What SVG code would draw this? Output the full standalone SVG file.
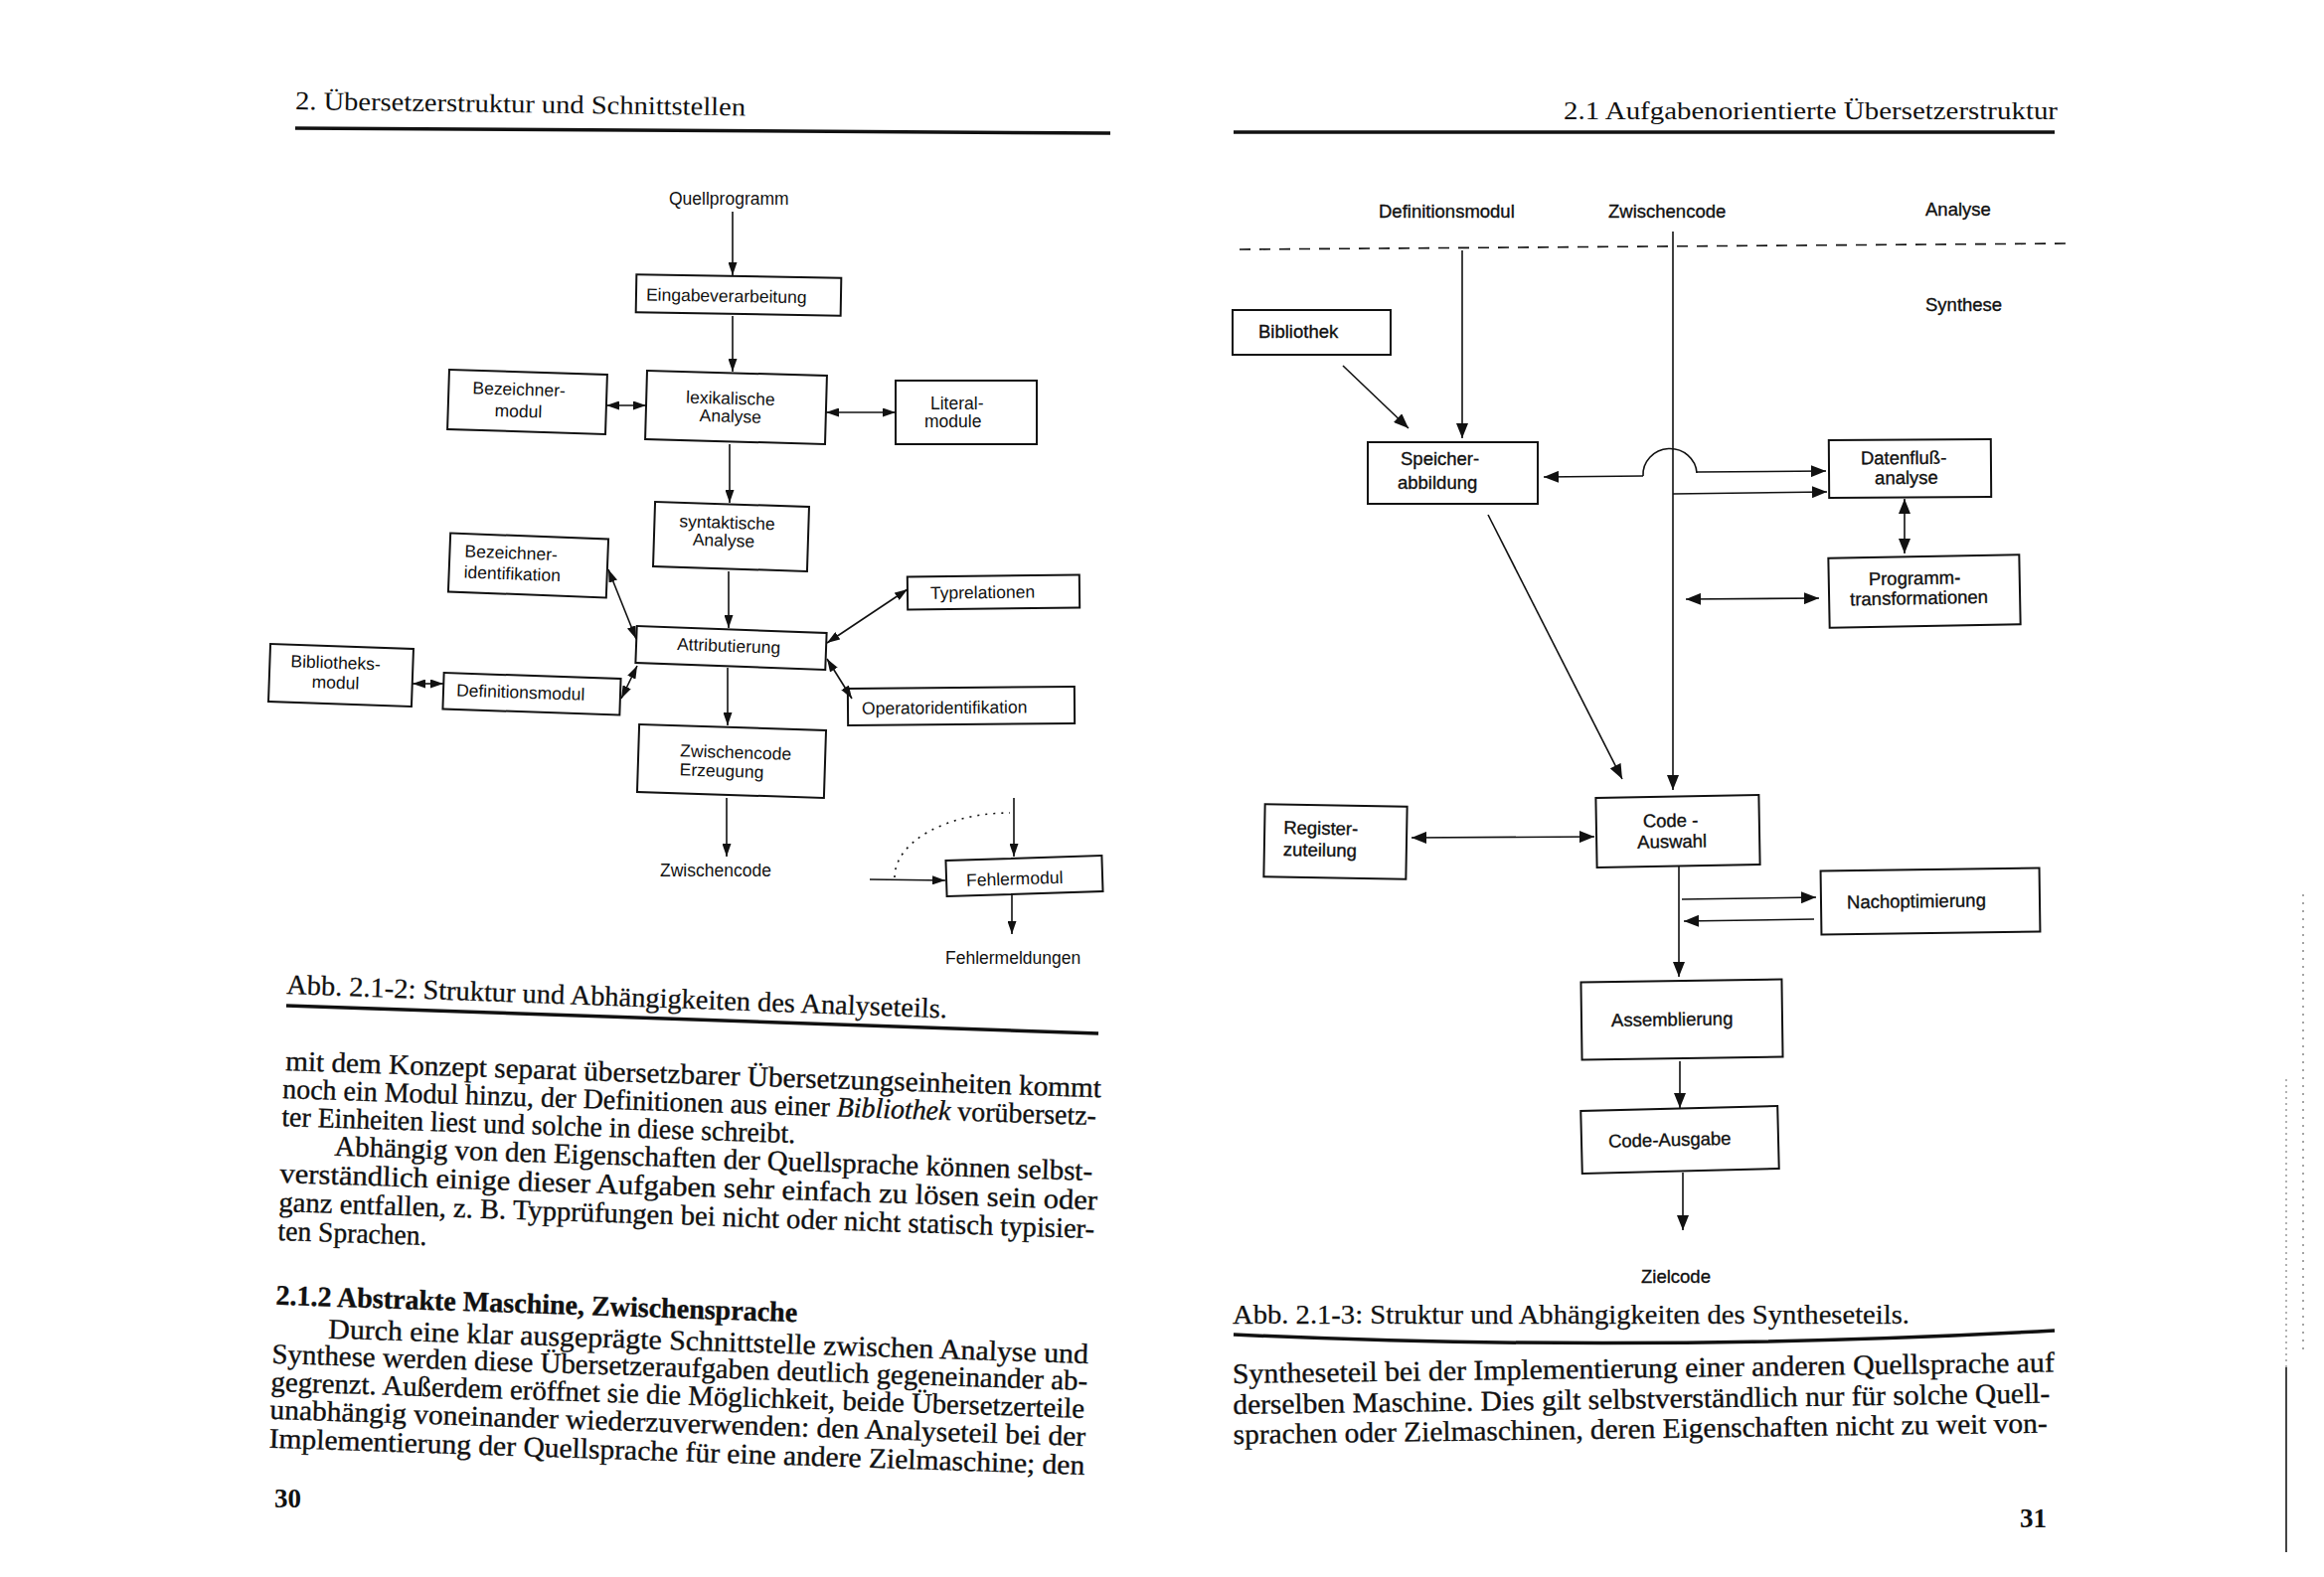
<svg xmlns="http://www.w3.org/2000/svg" width="2338" height="1587" viewBox="0 0 2338 1587">
<defs>
<style>
.box{fill:none;stroke:#111;stroke-width:2}
.lt{font-family:"Liberation Sans",Arial,sans-serif;font-size:17.5px;fill:#111}
.rt{font-family:"Liberation Sans",Arial,sans-serif;font-size:18.5px;fill:#111;stroke:#111;stroke-width:0.35}
.ser{font-family:"Liberation Serif","Times New Roman",serif;fill:#111}
.body{font-size:28.5px;stroke:#111;stroke-width:0.35}
.cap{font-size:28px;stroke:#111;stroke-width:0.25}
.con{fill:none;stroke:#111;stroke-width:1.6}
.eL{marker-end:url(#ahL)}
.dL{marker-start:url(#ahL);marker-end:url(#ahL)}
.eR{marker-end:url(#ahR)}
.dR{marker-start:url(#ahR);marker-end:url(#ahR)}
.rule{fill:none;stroke:#111;stroke-width:3.5}
</style>
<marker id="ahL" viewBox="0 0 13 9" refX="13" refY="4.5" markerWidth="13" markerHeight="9" markerUnits="userSpaceOnUse" orient="auto-start-reverse"><path d="M0,0 L13,4.5 L0,9 z" fill="#111"/></marker>
<marker id="ahR" viewBox="0 0 15 12" refX="15" refY="6" markerWidth="15" markerHeight="12" markerUnits="userSpaceOnUse" orient="auto-start-reverse"><path d="M0,0 L15,6 L0,12 z" fill="#111"/></marker>
</defs>
<rect width="2338" height="1587" fill="#fff"/>

<!-- ===== Left page ===== -->
<g id="left-page-text">
<text class="ser" font-size="26" x="297" y="110" textLength="453" lengthAdjust="spacingAndGlyphs" transform="rotate(0.8 297 110)">2. Übersetzerstruktur und Schnittstellen</text>
<path class="rule" d="M297,129 L1117,134"/>
<text class="ser cap" x="288" y="1000" textLength="665" lengthAdjust="spacingAndGlyphs" transform="rotate(2.1 288 1000)">Abb. 2.1-2: Struktur und Abhängigkeiten des Analyseteils.</text>
<path class="rule" d="M288,1012 L1105,1040"/>
<g class="ser body" transform="rotate(1.9 285 1077)">
<text x="287" y="1077" textLength="821" lengthAdjust="spacingAndGlyphs">mit dem Konzept separat übersetzbarer Übersetzungseinheiten kommt</text>
<text x="285" y="1105" textLength="819" lengthAdjust="spacingAndGlyphs">noch ein Modul hinzu, der Definitionen aus einer <tspan font-style="italic">Bibliothek</tspan> vorübersetz-</text>
<text x="285" y="1133" textLength="517" lengthAdjust="spacingAndGlyphs">ter Einheiten liest und solche in diese schreibt.</text>
<text x="339" y="1161" textLength="763" lengthAdjust="spacingAndGlyphs">Abhängig von den Eigenschaften der Quellsprache können selbst-</text>
<text x="285" y="1190" textLength="823" lengthAdjust="spacingAndGlyphs">verständlich einige dieser Aufgaben sehr einfach zu lösen sein oder</text>
<text x="285" y="1219" textLength="821" lengthAdjust="spacingAndGlyphs">ganz entfallen, z. B. Typprüfungen bei nicht oder nicht statisch typisier-</text>
<text x="285" y="1248" textLength="150" lengthAdjust="spacingAndGlyphs">ten Sprachen.</text>
<text x="285" y="1313" font-weight="bold" textLength="525" lengthAdjust="spacingAndGlyphs">2.1.2 Abstrakte Maschine, Zwischensprache</text>
<text x="339" y="1345" textLength="765" lengthAdjust="spacingAndGlyphs">Durch eine klar ausgeprägte Schnittstelle zwischen Analyse und</text>
<text x="283" y="1372" textLength="821" lengthAdjust="spacingAndGlyphs">Synthese werden diese Übersetzeraufgaben deutlich gegeneinander ab-</text>
<text x="283" y="1400" textLength="819" lengthAdjust="spacingAndGlyphs">gegrenzt. Außerdem eröffnet sie die Möglichkeit, beide Übersetzerteile</text>
<text x="283" y="1428" textLength="821" lengthAdjust="spacingAndGlyphs">unabhängig voneinander wiederzuverwenden: den Analyseteil bei der</text>
<text x="283" y="1457" textLength="821" lengthAdjust="spacingAndGlyphs">Implementierung der Quellsprache für eine andere Zielmaschine; den</text>
</g>
<text class="ser" font-size="27" font-weight="bold" x="276" y="1517">30</text>
</g>

<!-- Left diagram nodes -->
<g id="n-quellprogramm"><text class="lt" x="673" y="206">Quellprogramm</text></g>
<g id="n-eingabe" transform="rotate(1 743 297)"><rect class="box" x="640" y="278" width="206" height="38"/><text class="lt" x="650" y="304">Eingabeverarbeitung</text></g>
<g id="n-bezmodul" transform="rotate(1.8 530.5 404.5)"><rect class="box" x="451" y="374.5" width="159" height="60"/><text class="lt" x="475" y="398">Bezeichner-</text><text class="lt" x="498" y="420">modul</text></g>
<g id="n-lex" transform="rotate(1.6 740.5 410)"><rect class="box" x="650" y="375.5" width="181" height="69"/><text class="lt" x="690" y="407">lexikalische</text><text class="lt" x="704" y="425">Analyse</text></g>
<g id="n-literal"><rect class="box" x="901" y="383" width="142" height="64"/><text class="lt" x="936" y="412">Literal-</text><text class="lt" x="930" y="430">module</text></g>
<g id="n-syn" transform="rotate(1.8 735.5 540)"><rect class="box" x="658" y="507.5" width="155" height="65"/><text class="lt" x="683" y="532">syntaktische</text><text class="lt" x="697" y="550">Analyse</text></g>
<g id="n-bezident" transform="rotate(2.2 531.5 569)"><rect class="box" x="452" y="539.5" width="159" height="59"/><text class="lt" x="467" y="563">Bezeichner-</text><text class="lt" x="467" y="584">identifikation</text></g>
<g id="n-attr" transform="rotate(2.1 735.5 652)"><rect class="box" x="640" y="633.5" width="191" height="37"/><text class="lt" x="681" y="656">Attributierung</text></g>
<g id="n-typ" transform="rotate(-0.7 999.5 596)"><rect class="box" x="913" y="579.5" width="173" height="33"/><text class="lt" x="936" y="602">Typrelationen</text></g>
<g id="n-bibl" transform="rotate(2 343 679.5)"><rect class="box" x="271" y="650.5" width="144" height="58"/><text class="lt" x="292" y="673">Bibliotheks-</text><text class="lt" x="314" y="693">modul</text></g>
<g id="n-def" transform="rotate(1.9 535 698)"><rect class="box" x="446" y="680" width="178" height="36.5"/><text class="lt" x="459" y="703">Definitionsmodul</text></g>
<g id="n-op" transform="rotate(-0.5 967 710.5)"><rect class="box" x="853" y="692" width="228" height="37"/><text class="lt" x="867" y="718">Operatoridentifikation</text></g>
<g id="n-zwerz" transform="rotate(1.8 736 766)"><rect class="box" x="642" y="732" width="188" height="68"/><text class="lt" x="684" y="763">Zwischencode</text><text class="lt" x="684" y="782">Erzeugung</text></g>
<g id="n-zwlabel"><text class="lt" x="664" y="882">Zwischencode</text></g>
<g id="n-fehler" transform="rotate(-1.8 1030.5 881.5)"><rect class="box" x="952" y="863.5" width="157" height="36"/><text class="lt" x="972" y="890">Fehlermodul</text></g>
<g id="n-fehlermeldungen"><text class="lt" x="951" y="970">Fehlermeldungen</text></g>

<!-- ===== Right page ===== -->
<g id="right-page-text">
<text class="ser" font-size="26" x="1573" y="120" textLength="497" lengthAdjust="spacingAndGlyphs">2.1 Aufgabenorientierte Übersetzerstruktur</text>
<path class="rule" d="M1241,133 L2067,133"/>
<text class="ser cap" x="1240" y="1332" textLength="681" lengthAdjust="spacingAndGlyphs">Abb. 2.1-3: Struktur und Abhängigkeiten des Syntheseteils.</text>
<path class="rule" d="M1241,1343 Q1650,1362 2067,1339"/>
<g class="ser body" transform="rotate(-0.8 1240 1392)">
<text x="1240" y="1392" textLength="827" lengthAdjust="spacingAndGlyphs">Syntheseteil bei der Implementierung einer anderen Quellsprache auf</text>
<text x="1240" y="1423" textLength="822" lengthAdjust="spacingAndGlyphs">derselben Maschine. Dies gilt selbstverständlich nur für solche Quell-</text>
<text x="1240" y="1453" textLength="819" lengthAdjust="spacingAndGlyphs">sprachen oder Zielmaschinen, deren Eigenschaften nicht zu weit von-</text>
</g>
<text class="ser" font-size="27" font-weight="bold" x="2032" y="1537">31</text>
</g>

<!-- Right diagram nodes -->
<g id="n-r-def"><text class="rt" x="1387" y="219">Definitionsmodul</text></g>
<g id="n-r-zw"><text class="rt" x="1618" y="219">Zwischencode</text></g>
<g id="n-r-analyse"><text class="rt" x="1937" y="217">Analyse</text></g>
<g id="n-r-synthese"><text class="rt" x="1937" y="313">Synthese</text></g>
<g id="n-r-bibliothek"><rect class="box" x="1240" y="312" width="159" height="45"/><text class="rt" x="1266" y="340">Bibliothek</text></g>
<g id="n-r-speicher"><rect class="box" x="1376" y="445" width="171" height="62"/><text class="rt" x="1409" y="468">Speicher-</text><text class="rt" x="1406" y="492">abbildung</text></g>
<g id="n-r-datenfluss" transform="rotate(-0.4 1921.5 471.5)"><rect class="box" x="1840" y="442.5" width="163" height="58"/><text class="rt" x="1872" y="467">Datenfluß-</text><text class="rt" x="1886" y="487">analyse</text></g>
<g id="n-r-programm" transform="rotate(-1.1 1936 595)"><rect class="box" x="1840" y="560" width="192" height="70"/><text class="rt" x="1880" y="588">Programm-</text><text class="rt" x="1861" y="608">transformationen</text></g>
<g id="n-r-register" transform="rotate(1 1343.5 847)"><rect class="box" x="1272" y="810.5" width="143" height="73"/><text class="rt" x="1291" y="840">Register-</text><text class="rt" x="1291" y="862">zuteilung</text></g>
<g id="n-r-code" transform="rotate(-1 1688 836.5)"><rect class="box" x="1606" y="801.5" width="164" height="70"/><text class="rt" x="1653" y="832">Code -</text><text class="rt" x="1647" y="853">Auswahl</text></g>
<g id="n-r-nachopt" transform="rotate(-0.8 1942 907)"><rect class="box" x="1832" y="875" width="220" height="64"/><text class="rt" x="1858" y="913">Nachoptimierung</text></g>
<g id="n-r-assembl" transform="rotate(-0.8 1692 1026)"><rect class="box" x="1591" y="987" width="202" height="78"/><text class="rt" x="1621" y="1032">Assemblierung</text></g>
<g id="n-r-ausgabe" transform="rotate(-1.4 1690 1147)"><rect class="box" x="1591" y="1115.5" width="198" height="63"/><text class="rt" x="1618" y="1153">Code-Ausgabe</text></g>
<g id="n-r-zielcode"><text class="rt" x="1651" y="1291">Zielcode</text></g>

<!-- ===== Connectors ===== -->
<g id="connectors">
<path class="con eL" d="M737,213 L737,277"/>
<path class="con eL" d="M737,318 L737,374"/>
<path class="con dL" d="M610,408 L650,408"/>
<path class="con dL" d="M831,415 L901,415"/>
<path class="con eL" d="M734,447 L734,506"/>
<path class="con eL" d="M733,575 L733,632"/>
<path class="con dL" d="M612,573 L640,643"/>
<path class="con dL" d="M625,703 L641,670"/>
<path class="con dL" d="M415,688 L446,688"/>
<path class="con dL" d="M913,593 L832,647"/>
<path class="con dL" d="M832,663 L857,703"/>
<path class="con eL" d="M732,672 L732,730"/>
<path class="con eL" d="M731,803 L731,862"/>
<path class="con eL" d="M1020,803 L1020,862"/>
<path class="con eL" d="M875,885 L951,886"/>
<path class="con" stroke-dasharray="2 6" d="M900,883 A116,65 0 0 1 1016,818"/>
<path class="con eL" d="M1018,900 L1018,940"/>

<path class="con" stroke-width="2" stroke-dasharray="11 9" d="M1247,251 L2078,245"/>
<path class="con eR" d="M1471,252 L1471,441"/>
<path class="con eR" d="M1683,233 L1683,795"/>
<path class="con eR" stroke-width="2" d="M1351,368 L1417,431"/>
<path class="con" stroke-width="2.2" d="M1653,479 A27,26 0 0 1 1707,476"/>
<path class="con eR" d="M1653,479 L1553,480"/>
<path class="con eR" d="M1707,475 L1837,474"/>
<path class="con eR" d="M1683,497 L1838,495"/>
<path class="con dR" d="M1916,502 L1916,557"/>
<path class="con dR" d="M1696,603 L1830,602"/>
<path class="con eR" d="M1497,518 L1632,784"/>
<path class="con dR" d="M1420,843 L1604,842"/>
<path class="con eR" d="M1689,872 L1689,983"/>
<path class="con eR" d="M1692,905 L1827,903"/>
<path class="con eR" d="M1825,925 L1694,927"/>
<path class="con eR" d="M1690,1068 L1690,1115"/>
<path class="con eR" d="M1693,1180 L1693,1238"/>
</g>

<!-- scan edge marks -->
<g id="scan-marks" fill="none">
<path d="M2300,1086 L2300,1376" stroke="#999" stroke-width="1.5" stroke-dasharray="2 4"/>
<path d="M2300,1376 L2300,1562" stroke="#444" stroke-width="2"/>
<path d="M2317,900 L2317,1359" stroke="#888" stroke-width="1.5" stroke-dasharray="2 6"/>
</g>
</svg>
